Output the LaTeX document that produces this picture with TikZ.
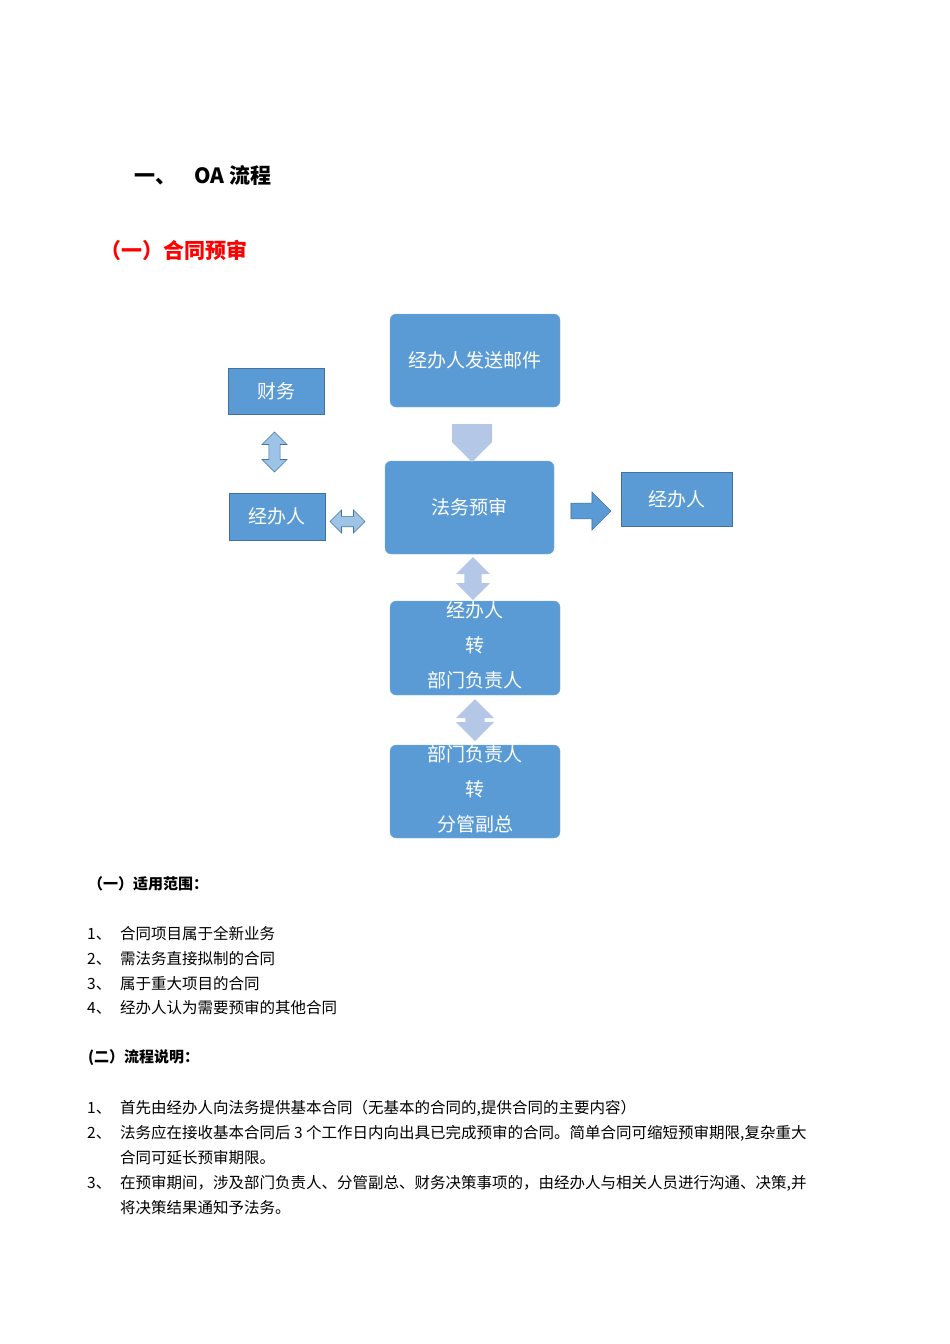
\documentclass[tikz,border=0pt]{standalone}
\usepackage{fontspec}
\setmainfont{Noto Sans CJK SC}
\usetikzlibrary{shapes.arrows}
\definecolor{boxblue}{HTML}{5B9BD5}
\definecolor{boxedge}{HTML}{41719C}
\definecolor{lightarr}{HTML}{B4C7E7}
\definecolor{midarr}{HTML}{9DC3E6}
\begin{document}
\begin{tikzpicture}[x=1pt,y=-1pt,
  rbox/.style={fill=boxblue,draw=boxblue!80!white,rounded corners=6pt,text=white,font=\fontsize{19}{35}\selectfont,align=center,inner sep=0pt},
  sbox/.style={fill=boxblue,draw=boxedge,line width=1pt,text=white,font=\fontsize{19}{24}\selectfont,inner sep=0pt},
  body/.style={anchor=west,font=\fontsize{15.5}{20}\selectfont,inner sep=0pt},
  arr/.style={draw=none,inner sep=0pt,minimum height=0pt},
]
\useasboundingbox (0,0) rectangle (950,1344);
\node[anchor=west,font=\fontsize{21}{24}\selectfont\bfseries] (h1) at (131,175) {一、\hspace{18pt}OA 流程};
\node[anchor=west,font=\fontsize{21}{24}\selectfont\bfseries,text=red] (h2) at (97,250) {（一）合同预审};

\node[rbox,minimum width=170,minimum height=93] (mail) at (475,360.5) {经办人发送邮件};
\node[sbox,minimum width=96,minimum height=46] (cw) at (276,391) {财务};
\node[sbox,minimum width=96,minimum height=47] (jl) at (277,516.5) {经办人};
\node[rbox,minimum width=169,minimum height=93] (fw) at (469.5,507.5) {法务预审};
\node[sbox,minimum width=111,minimum height=54] (jr) at (676.5,499) {经办人};
\node[rbox,minimum width=170,minimum height=94] (z1) at (475,648) {};
\node[text=white,font=\fontsize{19}{35}\selectfont,align=center] (z1t) at (475,645) {经办人\\转\\部门负责人};
\node[rbox,minimum width=170,minimum height=93] (z2) at (475,791.5) {};
\node[text=white,font=\fontsize{19}{35}\selectfont,align=center] (z2t) at (475,789) {部门负责人\\转\\分管副总};

% arrows
\node[single arrow,fill=lightarr,arr,rotate=-90,minimum width=40,single arrow head extend=0pt,minimum height=38,single arrow tip angle=90] (a1) at (472,433) {};
\node[double arrow,fill=midarr,draw=boxedge,line width=0.6pt,rotate=90,minimum width=25,minimum height=40,inner sep=3pt,double arrow head extend=4pt] (a2) at (274.5,452) {};
\node[double arrow,fill=midarr,draw=boxedge,line width=0.6pt,minimum width=23,minimum height=35,inner sep=3pt,double arrow head extend=4pt] (a3) at (347.5,521.5) {};
\node[single arrow,fill=boxblue,draw=boxedge,line width=0.6pt,minimum width=38,minimum height=40,inner sep=4pt,single arrow head extend=6pt] (a4) at (587,511) {};
\node[double arrow,fill=lightarr,arr,rotate=90,minimum width=34,minimum height=43,inner sep=4pt,double arrow head extend=4pt] (a5) at (473,578.5) {};
\node[double arrow,fill=lightarr,arr,rotate=90,minimum width=38,minimum height=42,inner sep=4pt,double arrow head extend=4pt] (a6) at (475,720) {};

% text
\node[anchor=west,font=\fontsize{15}{20}\selectfont\bfseries,inner sep=0pt] (s1) at (88,884) {（一）适用范围：};
\node[body] (n1) at (87,934) {1、};\node[body] (t1) at (120,934) {合同项目属于全新业务};
\node[body] (n2) at (87,959) {2、};\node[body] (t2) at (120,959) {需法务直接拟制的合同};
\node[body] (n3) at (87,984) {3、};\node[body] (t3) at (120,984) {属于重大项目的合同};
\node[body] (n4) at (87,1008) {4、};\node[body] (t4) at (120,1008) {经办人认为需要预审的其他合同};
\node[anchor=west,font=\fontsize{15}{20}\selectfont\bfseries,inner sep=0pt] (s2) at (88,1058) {(二）流程说明：};
\node[body] (m1) at (87,1108) {1、};\node[body] (u1) at (120,1108) {首先由经办人向法务提供基本合同（无基本的合同的,提供合同的主要内容）};
\node[body] (m2) at (87,1133) {2、};\node[body] (u2) at (120,1133) {法务应在接收基本合同后 3 个工作日内向出具已完成预审的合同。简单合同可缩短预审期限,复杂重大};
\node[body] (u2b) at (120,1158) {合同可延长预审期限。};
\node[body] (m3) at (87,1183) {3、};\node[body] (u3) at (120,1183) {在预审期间，涉及部门负责人、分管副总、财务决策事项的，由经办人与相关人员进行沟通、决策,并};
\node[body] (u3b) at (120,1208) {将决策结果通知予法务。};
\end{tikzpicture}
\end{document}
